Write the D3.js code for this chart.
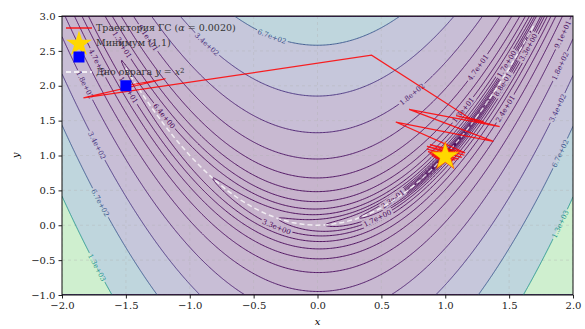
<!DOCTYPE html>
<meta charset="utf-8">
<head>
<style>
  body { margin: 0; background: #fff; }
  text { font-family: "DejaVu Serif", serif; }
</style>
</head>
<body>
<div id="chart"></div>
<script src="https://cdn.jsdelivr.net/npm/d3@7"></script>
<script>

// contour levels (each about 1.94x the previous)
var levels = [0.0085, 0.0165, 0.0321, 0.0622, 0.121, 0.234, 0.455, 0.882, 1.71, 3.32,
              6.44, 12.5, 24.2, 47.0, 91.2, 177, 344, 667, 1293, 2509];

// gradient descent path, alpha = 0.002, start (-1.5, 2)
var trajX = [-1.5, -1.19, -1.8323, 0.4232, 1.1905, 1.3018, 1.0853, 1.4259, 0.7173, 1.3765,
             0.6128, 1.1556, 0.8800, 1.1497, 0.8566, 1.1295, 0.8547, 1.1035, 0.8653, 1.0786,
             0.8796, 1.0571, 0.8938, 1.0393, 0.9065, 1.0248, 0.918, 1.013, 0.928, 1.003,
             0.937, 0.995, 0.96, 0.975, 0.99, 1.0];
var trajY = [2.0, 2.1, 1.8264, 2.4388, 1.5349, 1.4879, 1.5706, 1.4135, 1.6614, 1.2026,
             1.4795, 1.0379, 1.1569, 1.0039, 1.1311, 0.9722, 1.0936, 0.9484, 1.0561, 0.9331,
             1.0253, 0.9246, 1.0018, 0.9206, 0.9844, 0.9193, 0.972, 0.921, 0.963, 0.924,
             0.957, 0.928, 0.925, 0.945, 0.975, 1.0];

// valley floor y = x^2
var valleyX = [-1.5, -1.4, -1.3, -1.2, -1.1, -1.0, -0.9, -0.8, -0.7, -0.6, -0.5, -0.4, -0.3,
               -0.2, -0.1, 0.0, 0.1, 0.2, 0.3, 0.4, 0.5, 0.6, 0.7, 0.8, 0.9, 1.0, 1.1, 1.2,
               1.3, 1.4, 1.5, 1.6, 1.7];
var valleyY = [2.25, 1.96, 1.69, 1.44, 1.21, 1.0, 0.81, 0.64, 0.49, 0.36, 0.25, 0.16, 0.09,
               0.04, 0.01, 0.0, 0.01, 0.04, 0.09, 0.16, 0.25, 0.36, 0.49, 0.64, 0.81, 1.0, 1.21, 1.44,
               1.69, 1.96, 2.25, 2.56, 2.89];

var startPt = [-1.5, 2.0];
var minPt = [1.0, 1.0];

// inline labels: level, x, side of the valley
var labelLevels = [667, 344, 12.5, 91.2, 47.0, 177, 12.5, 6.44, 344, 667, 1293, 3.32, 1.71,
                   177, 47.0, 12.5, 24.2, 91.2, 177, 344, 667, 1293, 0.882, 3.32, 1.71, 0.234];
var labelX = [-0.356, -0.865, -1.53, -1.327, -1.72, -1.82, -1.48, -1.2, -1.726, -1.70, -1.726, -0.32, 0.47,
              0.74, 1.256, 1.14, 1.47, 1.92, 1.90, 1.88, 1.90, 1.90, 1.45, 1.65, 1.48, 0.59];
var labelSide = [1, 1, 1, 1, -1, -1, -1, 1, -1, -1, -1, -1, -1,
                 1, 1, 1, -1, -1, -1, -1, -1, -1, -1, -1, 1, 1];

var xTicks = [-2.0, -1.5, -1.0, -0.5, 0.0, 0.5, 1.0, 1.5, 2.0];
var yTicks = [-1.0, -0.5, 0.0, 0.5, 1.0, 1.5, 2.0, 2.5, 3.0];

var W = 585, H = 329;
var margin = {left: 62, right: 12, top: 16, bottom: 34};

var xS = d3.scaleLinear().domain([-2, 2]).range([margin.left, W - margin.right]);
var yS = d3.scaleLinear().domain([-1, 3]).range([H - margin.bottom, margin.top]);

function rosen(x, y) { return (1 - x) * (1 - x) + 100 * (y - x * x) * (y - x * x); }

var svg = d3.select("#chart").append("svg")
    .attr("width", W).attr("height", H);

var defs = svg.append("defs");
defs.append("clipPath").attr("id", "plotclip")
  .append("rect")
    .attr("x", xS(-2)).attr("y", yS(3))
    .attr("width", xS(2) - xS(-2)).attr("height", yS(-1) - yS(3));

// sample the surface
var nx = 360, ny = 360;
var vals = new Float64Array(nx * ny);
for (var j = 0; j < ny; j++) {
  var yy = -1 + 4 * j / (ny - 1);
  for (var i = 0; i < nx; i++) {
    var xx = -2 + 4 * i / (nx - 1);
    vals[j * nx + i] = rosen(xx, yy);
  }
}
var contours = d3.contours().size([nx, ny]).thresholds(levels)(vals);

var gx = d3.scaleLinear().domain([0.5, nx - 0.5]).range([xS(-2), xS(2)]);
var gy = d3.scaleLinear().domain([0.5, ny - 0.5]).range([yS(-1), yS(3)]);
var path = d3.geoPath(d3.geoTransform({
  point: function(a, b) { this.stream.point(gx(a), gy(b)); }
}));

var lmin = levels[0], lmax = levels[levels.length - 1];
function lineColor(v) { return d3.interpolateViridis((v - lmin) / (lmax - lmin)); }
function bandColor(k) {
  var hi = k + 1 < levels.length ? levels[k + 1] : levels[k];
  var mid = (levels[k] + hi) / 2;
  return d3.interpolateRgb("#ffffff", d3.interpolateViridis((mid - lmin) / (lmax - lmin)))(0.3);
}

var plot = svg.append("g").attr("clip-path", "url(#plotclip)");

// filled bands
plot.append("rect")
    .attr("x", xS(-2)).attr("y", yS(3))
    .attr("width", xS(2) - xS(-2)).attr("height", yS(-1) - yS(3))
    .attr("fill", bandColor(0));
plot.append("g").selectAll("path")
  .data(contours)
  .enter().append("path")
    .attr("d", path)
    .attr("fill", function(d, k) { return bandColor(k); });

// grid
var grid = plot.append("g")
    .attr("stroke", "#b0b0b0").attr("stroke-opacity", 0.45)
    .attr("stroke-width", 0.8).attr("stroke-dasharray", "3,3");
grid.selectAll(".gx").data(xTicks).enter().append("line")
    .attr("x1", function(d) { return xS(d); }).attr("x2", function(d) { return xS(d); })
    .attr("y1", yS(-1)).attr("y2", yS(3));
grid.selectAll(".gy").data(yTicks).enter().append("line")
    .attr("y1", function(d) { return yS(d); }).attr("y2", function(d) { return yS(d); })
    .attr("x1", xS(-2)).attr("x2", xS(2));

// label positions sit on their contour; lines get masked under them
function fmt(v) {
  var s = v.toExponential(1);
  return s.replace(/e([+-])(\d)$/, "e$10$2");
}
var labels = labelLevels.map(function(L, k) {
  var x = labelX[k];
  var r = (L - (1 - x) * (1 - x)) / 100;
  var y = x * x + labelSide[k] * Math.sqrt(Math.max(r, 0));
  var gxv = -2 * (1 - x) - 400 * x * (y - x * x), gyv = 200 * (y - x * x);
  var dpx = gxv / (xS(1) - xS(0)), dpy = gyv / (yS(1) - yS(0));
  var ang = Math.atan2(dpx, -dpy) * 180 / Math.PI;
  if (ang > 90) ang -= 180;
  if (ang < -90) ang += 180;
  return {L: L, px: xS(x), py: yS(y), ang: ang};
});

var mask = defs.append("mask").attr("id", "lblmask")
    .attr("maskUnits", "userSpaceOnUse")
    .attr("x", 0).attr("y", 0).attr("width", W).attr("height", H);
mask.append("rect").attr("width", W).attr("height", H).attr("fill", "white");

var lines = plot.append("g").attr("mask", "url(#lblmask)")
    .attr("fill", "none").attr("stroke-width", 0.9);
lines.selectAll("path")
  .data(contours.slice(0, levels.length - 1))
  .enter().append("path")
    .attr("d", path)
    .attr("stroke", function(d) { return lineColor(d.value); });

var lblG = plot.append("g");
labels.forEach(function(l) {
  var t = lblG.append("text")
      .attr("transform", "translate(" + l.px + "," + l.py + ") rotate(" + l.ang + ")")
      .attr("text-anchor", "middle").attr("dy", "0.35em")
      .style("font-size", "7px")
      .attr("fill", lineColor(l.L))
      .text(fmt(l.L));
  var w = t.node().getComputedTextLength() + 3;
  mask.append("rect")
      .attr("x", -w / 2).attr("y", -4).attr("width", w).attr("height", 8)
      .attr("transform", "translate(" + l.px + "," + l.py + ") rotate(" + l.ang + ")")
      .attr("fill", "black");
});

// valley
var line = d3.line().x(function(d) { return xS(d[0]); }).y(function(d) { return yS(d[1]); });
plot.append("path")
    .datum(d3.zip(valleyX, valleyY))
    .attr("d", line)
    .attr("fill", "none").attr("stroke", "white").attr("stroke-opacity", 0.75)
    .attr("stroke-width", 1.5).attr("stroke-dasharray", "5,3");

// trajectory
plot.append("path")
    .datum(d3.zip(trajX, trajY))
    .attr("d", line)
    .attr("fill", "none").attr("stroke", "red").attr("stroke-opacity", 0.85)
    .attr("stroke-width", 1.2);

function starPath(R) {
  var pts = [];
  for (var k = 0; k < 10; k++) {
    var r = k % 2 ? R * 0.381966 : R;
    var a = -Math.PI / 2 + k * Math.PI / 5;
    pts.push([r * Math.cos(a), r * Math.sin(a)]);
  }
  return "M" + pts.join("L") + "Z";
}

plot.append("rect")
    .attr("x", xS(startPt[0]) - 5.5).attr("y", yS(startPt[1]) - 5.5)
    .attr("width", 11).attr("height", 11)
    .attr("fill", "#0000ff");
plot.append("path")
    .attr("d", starPath(15))
    .attr("transform", "translate(" + xS(minPt[0]) + "," + (yS(minPt[1]) + 1) + ")")
    .attr("fill", "#ffd700").attr("stroke", "#ff4000").attr("stroke-width", 0.6);

// axes
var xAxis = svg.append("g")
    .attr("transform", "translate(0," + yS(-1) + ")")
    .call(d3.axisBottom(xS).tickValues(xTicks).tickFormat(d3.format(".1f")).tickSize(3.5).tickPadding(3));
var yAxis = svg.append("g")
    .attr("transform", "translate(" + xS(-2) + ",0)")
    .call(d3.axisLeft(yS).tickValues(yTicks).tickFormat(d3.format(".1f")).tickSize(3.5).tickPadding(3));
[xAxis, yAxis].forEach(function(a) {
  a.select(".domain").remove();
  a.selectAll("text").style("font-size", "10px").style("font-family", "DejaVu Serif").attr("fill", "#222");
  a.selectAll("line").attr("stroke", "#222");
});

svg.append("rect")
    .attr("x", xS(-2)).attr("y", yS(3))
    .attr("width", xS(2) - xS(-2)).attr("height", yS(-1) - yS(3))
    .attr("fill", "none").attr("stroke", "#111").attr("stroke-width", 1);

svg.append("text")
    .attr("x", xS(0)).attr("y", 325)
    .attr("text-anchor", "middle").style("font-size", "10px").style("font-style", "italic")
    .text("x");
svg.append("text")
    .attr("transform", "translate(19," + yS(1) + ") rotate(-90)")
    .attr("text-anchor", "middle").style("font-size", "10px").style("font-style", "italic")
    .text("y");

// legend (no frame)
var lg = svg.append("g").style("font-size", "9.5px").attr("fill", "#333");
lg.append("line").attr("x1", 66).attr("x2", 92).attr("y1", 28).attr("y2", 28)
    .attr("stroke", "red").attr("stroke-width", 1.3);
var t1 = lg.append("text").attr("x", 96).attr("y", 28).attr("dy", "0.35em");
t1.append("tspan").text("Траектория ГС (");
t1.append("tspan").style("font-style", "italic").text("α");
t1.append("tspan").text(" = 0.0020)");

lg.append("path").attr("d", starPath(13.5))
    .attr("transform", "translate(79,44)").attr("fill", "#ffd700");
lg.append("rect").attr("x", 73.5).attr("y", 51.5).attr("width", 11).attr("height", 11)
    .attr("fill", "#0000ff");
lg.append("text").attr("x", 96).attr("y", 43).attr("dy", "0.35em").text("Минимум (1,1)");

lg.append("line").attr("x1", 66).attr("x2", 92).attr("y1", 72).attr("y2", 72)
    .attr("stroke", "white").attr("stroke-width", 1.5).attr("stroke-dasharray", "5,3");
var t3 = lg.append("text").attr("x", 96).attr("y", 72).attr("dy", "0.35em");
t3.append("tspan").text("Дно оврага ");
t3.append("tspan").style("font-style", "italic").text("y");
t3.append("tspan").text(" = ");
t3.append("tspan").style("font-style", "italic").text("x");
t3.append("tspan").attr("dy", "-0.4em").style("font-size", "7px").text("2");

</script>
</body>
</html>
